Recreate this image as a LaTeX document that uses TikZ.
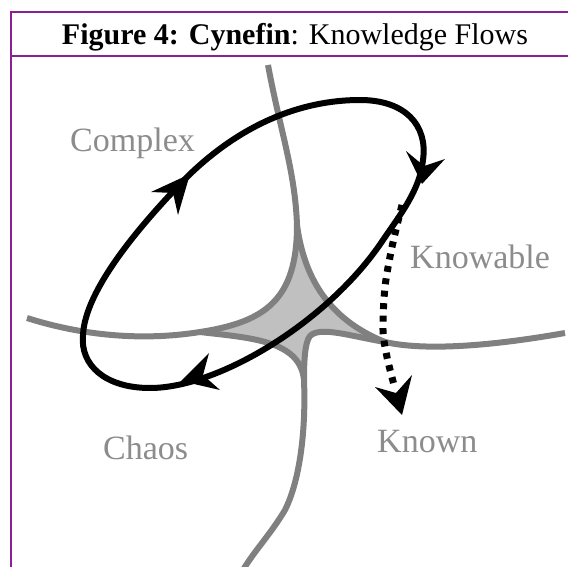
\documentclass[tikz,border=0pt]{standalone}
\usepackage{fontspec}
\setmainfont{Liberation Serif}
\definecolor{framecol}{RGB}{140,30,150}
\definecolor{linegray}{RGB}{128,128,128}
\definecolor{textgray}{RGB}{140,140,140}
\definecolor{fillgray}{RGB}{192,192,192}
\begin{document}
\begin{tikzpicture}[x=1pt,y=-1pt,
 frameline/.style={draw=framecol,line width=1.5pt},
 grayline/.style={draw=linegray,line width=6pt},
 loopline/.style={draw=black,line width=6pt},
 dotline/.style={draw=black,line width=7pt,dash pattern=on 6pt off 6.5pt},
 headfill/.style={fill=black},
 domlabel/.style={text=textgray,font=\fontsize{34}{40}\selectfont,anchor=base west,inner sep=0pt}]
\useasboundingbox (0,0) rectangle (568,567);
\fill[white] (0,0) rectangle (568,567);
\draw[frameline] (11,567) -- (11,12) -- (568,12);
\draw[frameline] (11,56) -- (568,56);
\node[anchor=base,inner sep=0pt,font=\fontsize{30}{36}\selectfont] (title) at (295,45) {\textbf{Figure 4: Cynefin}: Knowledge Flows};
% domain boundaries
\coordinate (T0) at (268,65);
\coordinate (T1) at (297,225);
\coordinate (L0) at (200,332);
\coordinate (L1) at (27,318);
\coordinate (R0) at (385,342);
\coordinate (R1) at (565,333);
\coordinate (E0) at (310,336);
\coordinate (B0) at (304,380);
\coordinate (B1) at (243,570);
\fill[fillgray] (T1) .. controls (305,285) and (335,322) .. (R0)
  .. controls (350,336) and (320,326) .. (E0)
  .. controls (305,342) and (304,360) .. (B0)
  .. controls (300,340) and (250,338) .. (L0)
  .. controls (265,322) and (297,300) .. (T1) -- cycle;
\draw[grayline] (T0) .. controls (280,130) and (295,170) .. (T1)
  .. controls (297,300) and (265,322) .. (L0)
  .. controls (150,340) and (90,338) .. (L1);
\draw[grayline] (T1) .. controls (305,285) and (335,322) .. (R0)
  .. controls (420,350) and (480,348) .. (R1);
\draw[grayline] (L0) .. controls (250,338) and (300,340) .. (B0)
  .. controls (306,430) and (300,480) .. (285,510)
  .. controls (270,535) and (255,550) .. (B1);
\draw[grayline] (R0) .. controls (350,336) and (320,326) .. (E0)
  .. controls (305,342) and (304,360) .. (B0);
% knowledge flow loop
\coordinate (P1) at (150,388);
\coordinate (P2) at (83,335);
\coordinate (P3) at (187,177);
\coordinate (P4) at (360,100);
\coordinate (P5) at (423,160);
\coordinate (P6) at (383,240);
\draw[loopline] (P1) .. controls (105,388) and (80,365) .. (P2)
  .. controls (85,290) and (140,225) .. (P3)
  .. controls (240,125) and (300,100) .. (P4)
  .. controls (405,100) and (428,125) .. (P5)
  .. controls (420,190) and (400,215) .. (P6)
  .. controls (330,320) and (220,388) .. (P1) -- cycle;
\fill[headfill] (190,174) -- (151,192) -- (173,193) -- (178,215) -- cycle;
\fill[headfill] (422,184) -- (406,151) -- (424,166) -- (445,159) -- cycle;
\fill[headfill] (181,381) -- (209,353) -- (203,375) -- (220,390) -- cycle;
% dotted flow
\draw[dotline] plot[smooth] coordinates {(402,205) (392,247) (385,287) (383,330) (387,357) (394,385)};
\fill[headfill] (402,415) -- (375,387) -- (396,393) -- (412,375) -- cycle;
% labels
\node[domlabel] (complex) at (70,152) {Complex};
\node[domlabel] (knowable) at (410,268) {Knowable};
\node[domlabel] (chaos) at (103,459) {Chaos};
\node[domlabel] (known) at (377,452) {Known};
\end{tikzpicture}
\end{document}
